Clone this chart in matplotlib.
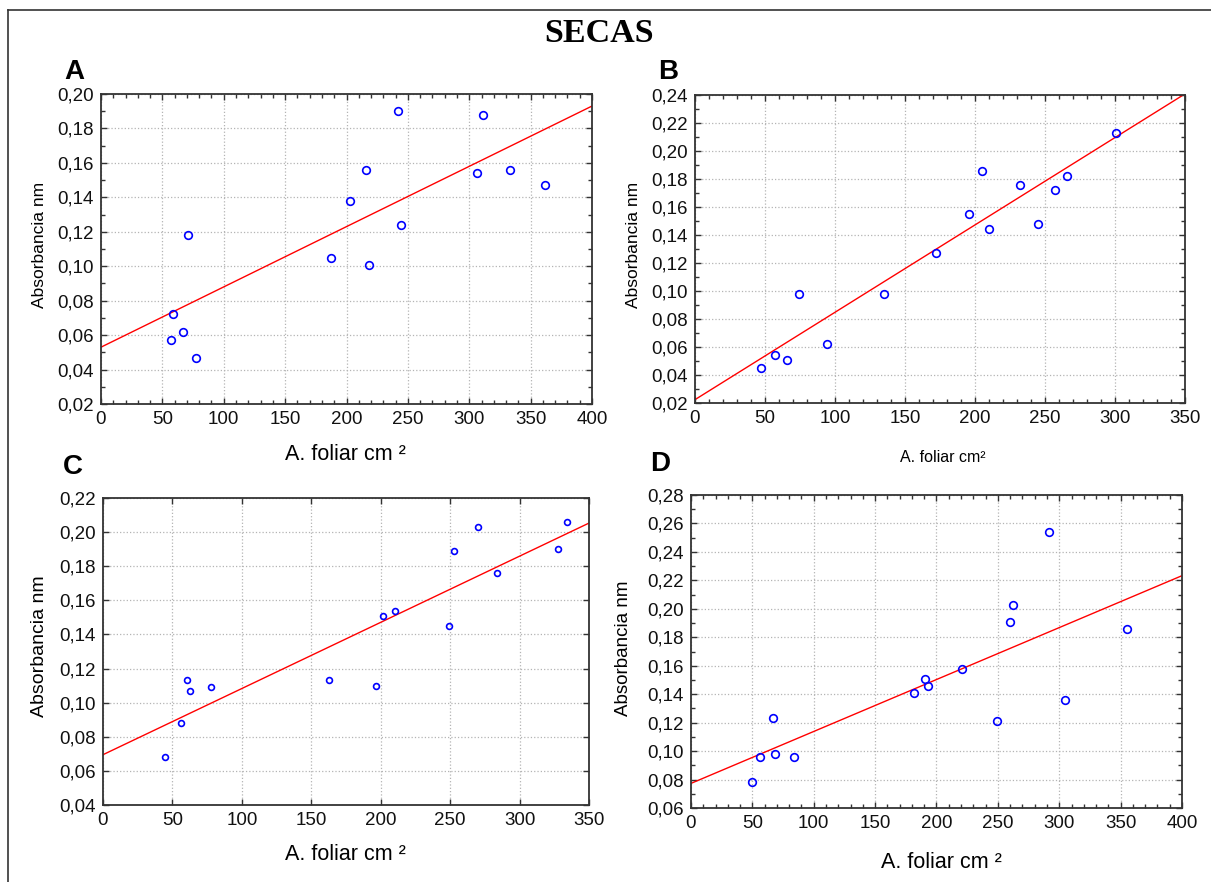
import numpy as np
import matplotlib
matplotlib.use("Agg")
import matplotlib.pyplot as plt
from matplotlib.lines import Line2D
from matplotlib.ticker import FuncFormatter, MultipleLocator

plt.rcParams["font.family"] = ["Liberation Sans", "DejaVu Sans"]

# Leaf area (cm2) vs absorbance, four groups
a_area = [57, 59, 67, 71, 77, 187, 203, 216, 218, 242, 244, 306, 311, 333, 362]
a_abs = [0.057, 0.072, 0.062, 0.118, 0.047, 0.105, 0.138, 0.156, 0.101, 0.190,
         0.124, 0.154, 0.188, 0.156, 0.147]
a_fit = (0.053, 0.00035)  # intercept, slope

b_area = [47, 57, 66, 74, 94, 135, 172, 196, 205, 210, 232, 245, 257, 266, 301]
b_abs = [0.045, 0.054, 0.051, 0.098, 0.062, 0.098, 0.127, 0.155, 0.186, 0.144,
         0.176, 0.148, 0.172, 0.182, 0.213]
b_fit = (0.0224, 0.000624)

c_area = [44.5, 56, 60.5, 62.5, 78, 163, 196.5, 202, 210, 249, 252.5, 270, 284, 328, 334.5]
c_abs = [0.068, 0.088, 0.113, 0.107, 0.109, 0.113, 0.110, 0.151, 0.154, 0.145,
         0.189, 0.203, 0.176, 0.190, 0.206]
c_fit = (0.0695, 0.000388)

d_area = [50, 56, 66.5, 68.5, 84, 182, 191, 193, 220.5, 249.5, 260, 262, 292, 304.5, 355]
d_abs = [0.078, 0.096, 0.123, 0.098, 0.096, 0.141, 0.151, 0.146, 0.158, 0.121,
         0.191, 0.203, 0.254, 0.136, 0.186]
d_fit = (0.0773, 0.000365)

W, H = 1211, 882
fig = plt.figure(figsize=(W / 100, H / 100), dpi=100)


def px(x, y):
    return x / W, 1 - y / H


def rect(l, t, r, b):
    return [l / W, 1 - b / H, (r - l) / W, (b - t) / H]


comma = FuncFormatter(lambda v, p: f"{v:.2f}".replace(".", ","))


def panel(box, xs, ys, fit, xmax, ylim, ms=5.5, minor=True):
    ax = fig.add_axes(box)
    ax.plot(xs, ys, "o", mfc="none", mec="#0000ff", ms=ms, mew=1.2, zorder=3)
    xl = np.array([0, xmax])
    ax.plot(xl, fit[0] + fit[1] * xl, color="#ff0000", lw=1.0, zorder=2)
    ax.set_xlim(0, xmax)
    ax.set_ylim(*ylim)
    ax.xaxis.set_major_locator(MultipleLocator(50))
    ax.yaxis.set_major_locator(MultipleLocator(0.02))
    ax.yaxis.set_major_formatter(comma)
    if minor:
        ax.xaxis.set_minor_locator(MultipleLocator(10))
        ax.yaxis.set_minor_locator(MultipleLocator(0.01))
    ax.grid(True, which="major", color="#b4b4b4", ls=":", lw=0.9)
    ax.tick_params(which="both", direction="in", top=True, right=True,
                   labelsize=13.5, colors="#333333", labelcolor="#111111", pad=5)
    ax.tick_params(which="major", length=4, width=1)
    ax.tick_params(which="minor", length=3, width=1)
    for s in ax.spines.values():
        s.set_color("#333333")
        s.set_linewidth(1.3)
    return ax


panel(rect(101, 94, 592, 404), a_area, a_abs, a_fit, 400, (0.02, 0.20))
panel(rect(695, 95, 1185, 403), b_area, b_abs, b_fit, 350, (0.02, 0.24))
panel(rect(103, 498, 589, 805), c_area, c_abs, c_fit, 350, (0.04, 0.22), ms=4.2, minor=False)
panel(rect(691, 495, 1182, 808), d_area, d_abs, d_fit, 400, (0.06, 0.28))

# axis titles
for x, y, size in [(40, 245, 12.5), (633, 245, 12.5), (39, 646, 14), (624, 648, 13.5)]:
    fig.text(*px(x, y), "Absorbancia nm", rotation=90, ha="center", va="center", fontsize=size)
for x, y, size, txt in [(345, 454, 15.5, "A. foliar cm \u00b2"), (943, 458, 11.5, "A. foliar cm\u00b2"),
                        (345, 855, 15.5, "A. foliar cm \u00b2"), (941, 862, 15.5, "A. foliar cm \u00b2")]:
    fig.text(*px(x, y), txt, ha="center", va="center", fontsize=size)

# panel letters and heading
for x, y, letter in [(74, 72, "A"), (668, 72, "B"), (73, 467, "C"), (660, 464, "D")]:
    fig.text(*px(x, y), letter, ha="center", va="center", fontsize=20, fontweight="bold")
fig.text(*px(599, 34), "SECAS", ha="center", va="center", fontsize=24.5,
         fontweight="bold", family="Liberation Serif")

# outer frame (left and top edges)
fig.add_artist(Line2D([8 / W, 8 / W], [0, 1 - 10 / H], color="#333333", lw=1.2))
fig.add_artist(Line2D([8 / W, 1], [1 - 10 / H, 1 - 10 / H], color="#333333", lw=1.2))

fig.savefig("out.png", dpi=100)
